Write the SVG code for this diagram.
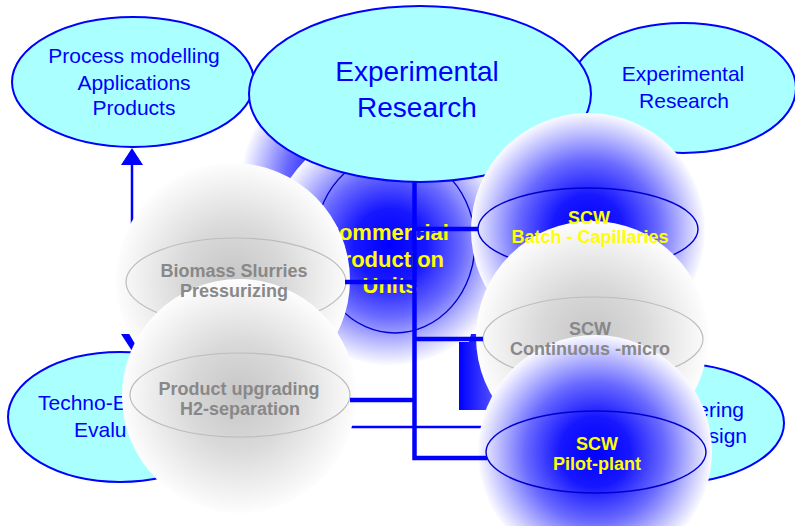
<svg xmlns="http://www.w3.org/2000/svg" width="795" height="526" viewBox="0 0 795 526">
  <defs>
    <radialGradient id="blueBall" cx="50%" cy="50%" r="50%">
      <stop offset="0" stop-color="#0000ff"/>
      <stop offset="0.3" stop-color="#1717ff"/>
      <stop offset="0.6" stop-color="#6a6aff"/>
      <stop offset="0.85" stop-color="#c6c6ff"/>
      <stop offset="1" stop-color="#fbfbff"/>
    </radialGradient>
    <radialGradient id="greyBall" cx="50%" cy="50%" r="50%">
      <stop offset="0" stop-color="#c6c6c6"/>
      <stop offset="0.45" stop-color="#d9d9d9"/>
      <stop offset="0.8" stop-color="#f0f0f0"/>
      <stop offset="1" stop-color="#fdfdfd"/>
    </radialGradient>
    <linearGradient id="blockFill" x1="0" y1="0" x2="1" y2="0">
      <stop offset="0" stop-color="#0000ff"/>
      <stop offset="1" stop-color="#6060ff"/>
    </linearGradient>
    <marker id="tri" viewBox="0 0 17 22" refX="0" refY="11" markerWidth="17" markerHeight="22" markerUnits="userSpaceOnUse" orient="auto-start-reverse">
      <path d="M0,0 L17,11 L0,22 Z" fill="#0000ff"/>
    </marker>
  </defs>
  <style>
    text { font-family: "Liberation Sans", Arial, Helvetica, sans-serif; text-anchor: middle; }
    .cyan { fill: #aaffff; stroke: #0000ff; stroke-width: 2; }
    .lbl { fill: #0000ff; font-size: 21px; }
    .big { font-size: 28px; }
    .ball-b { fill: url(#blueBall); }
    .ball-g { fill: url(#greyBall); }
    .ring-b { fill: none; stroke: #0000cc; stroke-width: 1.4; }
    .ring-g { fill: none; stroke: #bdbdbd; stroke-width: 1.2; }
    .yel { fill: #ffff00; font-weight: bold; font-size: 18px; }
    .gry { fill: #888888; font-weight: bold; font-size: 18px; }
    .wire { stroke: #0000ff; stroke-width: 4.5; fill: none; }
    .thin { stroke: #0000ff; stroke-width: 2.7; fill: none; }
  </style>

  <rect width="795" height="526" fill="#ffffff"/>

  <!-- shaded ball sitting behind the main research ellipse -->
  <g id="ball-back">
    <circle class="ball-b" cx="350" cy="180" r="108"/>
  </g>

  <!-- Commercial production units -->
  <g id="commercial">
    <circle class="ball-b" cx="390" cy="245" r="120"/>
    <ellipse class="ring-b" cx="395" cy="243" rx="80" ry="90"/>
    <text class="yel" style="font-size:22px" x="386" y="240">Commercial</text>
    <text class="yel" style="font-size:22px" x="386" y="267">Production</text>
    <text class="yel" style="font-size:22px" x="390" y="293">Units</text>
  </g>

  <g id="process-modelling">
    <ellipse class="cyan" cx="133" cy="82" rx="121" ry="65"/>
    <text class="lbl" x="134" y="63">Process modelling</text>
    <text class="lbl" x="134" y="90">Applications</text>
    <text class="lbl" x="134" y="115">Products</text>
  </g>

  <g id="experimental-small">
    <ellipse class="cyan" cx="683" cy="88" rx="113" ry="65"/>
    <text class="lbl" x="683" y="81">Experimental</text>
    <text class="lbl" x="684" y="108">Research</text>
  </g>

  <g id="experimental-main">
    <ellipse class="cyan" cx="420" cy="94" rx="171" ry="88"/>
    <text class="lbl big" x="417" y="81">Experimental</text>
    <text class="lbl big" x="417" y="117">Research</text>
  </g>

  <g id="techno-economic">
    <ellipse class="cyan" cx="120" cy="417" rx="112" ry="65"/>
    <text class="lbl" style="text-anchor:start" x="38" y="410">Techno-E</text>
    <text class="lbl" style="text-anchor:start" x="74" y="437">Evalu</text>
  </g>

  <g id="engineering">
    <ellipse class="cyan" cx="671" cy="423" rx="113" ry="60"/>
    <text class="lbl" style="text-anchor:end" x="744" y="417">ering</text>
    <text class="lbl" style="text-anchor:end" x="747" y="443">sign</text>
  </g>

  <!-- links that run underneath the balls -->
  <g id="connectors-behind">
    <path class="thin" d="M132,165 V334" style="stroke-width:2.5" marker-start="url(#tri)" marker-end="url(#tri)"/>
    <path class="thin" d="M231,427 H558"/>
  </g>

  <g id="block-arrow">
    <path d="M459,342 H469 L471,334 H478 L500,334 V410 H459 Z" fill="url(#blockFill)"/>
  </g>

  <!-- ball nodes: shading and outline -->
  <g id="scw-batch">
    <circle class="ball-b" cx="588" cy="230" r="117"/>
    <ellipse class="ring-b" cx="588" cy="229" rx="110" ry="41"/>
  </g>

  <g id="biomass">
    <circle class="ball-g" cx="233" cy="280" r="117"/>
    <ellipse class="ring-g" cx="236" cy="282" rx="110" ry="44"/>
  </g>

  <g id="product-upgrading">
    <circle class="ball-g" cx="239" cy="396" r="117"/>
    <ellipse class="ring-g" cx="240" cy="395" rx="110" ry="42"/>
  </g>

  <g id="scw-continuous">
    <circle class="ball-g" cx="592" cy="337" r="116"/>
    <ellipse class="ring-g" cx="593" cy="339" rx="110" ry="42"/>
  </g>

  <g id="scw-pilot">
    <circle class="ball-b" cx="595" cy="452" r="117"/>
    <ellipse class="ring-b" cx="596" cy="452" rx="110" ry="41"/>
  </g>

  <!-- ball labels sit above every ball -->
  <g id="ball-labels">
    <g id="scw-batch-label">
      <text class="yel" x="589" y="224">SCW</text>
      <text class="yel" x="590" y="243">Batch - Capillaries</text>
    </g>
    <g id="biomass-label">
      <text class="gry" x="234" y="277">Biomass Slurries</text>
      <text class="gry" x="234" y="297">Pressurizing</text>
    </g>
    <g id="product-upgrading-label">
      <text class="gry" x="239" y="395">Product upgrading</text>
      <text class="gry" x="240" y="415">H2-separation</text>
    </g>
    <g id="scw-continuous-label">
      <text class="gry" x="590" y="335">SCW</text>
      <text class="gry" x="590" y="355">Continuous -micro</text>
    </g>
    <g id="scw-pilot-label">
      <text class="yel" x="597" y="450">SCW</text>
      <text class="yel" x="597" y="470">Pilot-plant</text>
    </g>
  </g>

  <!-- distribution tree from the main research ellipse -->
  <g id="connectors">
    <path class="wire" d="M414.5,182 V458 H487"/>
    <path class="wire" d="M414.5,229 H478"/>
    <path class="wire" d="M345,282 H414.5"/>
    <path class="wire" d="M414.5,339 H483"/>
    <path class="wire" d="M350,400 H414.5"/>
  </g>
</svg>
